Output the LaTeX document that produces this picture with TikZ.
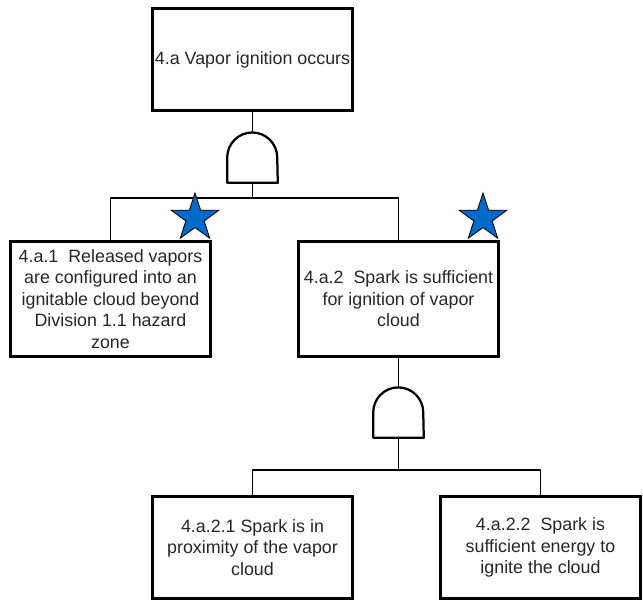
\documentclass[tikz,border=0pt]{standalone}
\usepackage{fontspec}
\setmainfont{Liberation Sans}
\usetikzlibrary{shapes.geometric}
\definecolor{starblue}{RGB}{0,106,200}
\newcommand{\eventfont}{\fontsize{12.7}{15.3}\selectfont\color{black!85}}

\begin{document}
\begin{tikzpicture}
        \tikzstyle{event}=[rectangle, draw, line width=2pt, minimum width=5cm, inner sep=0pt, align=center, font=\eventfont]
        \tikzstyle{gate}=[rectangle, minimum width=1.25cm, minimum height=1.25cm, inner sep=0pt]
        \tikzstyle{gateline}=[line width=1.6pt, line join=round]
        \tikzstyle{wire}=[line width=1pt]
        \tikzstyle{keystar}=[star, star points=5, star point ratio=2.6, minimum size=1.25cm, inner sep=0pt, draw, line width=0.6pt, fill=starblue]
        \useasboundingbox (0, 0) rectangle (16.075, -15.05);

        \node[event, minimum height=2.55cm] (ignition) at (6.3125, -1.4875) {4.a Vapor ignition occurs};
        \node[event, minimum height=2.875cm] (released) at (2.7625, -7.475) {4.a.1~~Released vapors\\are configured into an\\ignitable cloud beyond\\Division 1.1 hazard\\zone};
        \node[event, minimum height=2.875cm] (spark) at (9.9625, -7.475) {4.a.2~~Spark is sufficient\\for ignition of vapor\\cloud};
        \node[event, minimum height=2.55cm] (proximity) at (6.3125, -13.6875) {4.a.2.1 Spark is in\\proximity of the vapor\\cloud};
        \node[event, minimum height=2.55cm] (energy) at (13.5125, -13.6875) {4.a.2.2~~Spark is\\sufficient energy to\\ignite the cloud};

        \node[gate] (gate-ignition) at (6.3125, -3.9375) {};
        \node[gate] (gate-spark) at (9.9625, -10.31) {};
        \draw[gateline] (gate-ignition.south west) -- (gate-ignition.west) arc (180:0:0.625) -- (gate-ignition.south east) -- cycle;
        \draw[gateline] (gate-spark.south west) -- (gate-spark.west) arc (180:0:0.625) -- (gate-spark.south east) -- cycle;

        \coordinate (bus-ignition) at (6.3125, -4.95);
        \coordinate (bus-spark) at (9.9625, -11.75);

        \draw[wire] (ignition) -- (gate-ignition);
        \draw[wire] (gate-ignition) -- (bus-ignition);
        \draw[wire] (bus-ignition) -| (released);
        \draw[wire] (bus-ignition) -| (spark);

        \draw[wire] (spark) -- (gate-spark);
        \draw[wire] (gate-spark) -- (bus-spark);
        \draw[wire] (bus-spark) -| (proximity);
        \draw[wire] (bus-spark) -| (energy);

        \node[keystar] (star-released) at (4.875, -5.45) {};
        \node[keystar] (star-spark) at (12.075, -5.45) {};
    \end{tikzpicture}
\end{document}
